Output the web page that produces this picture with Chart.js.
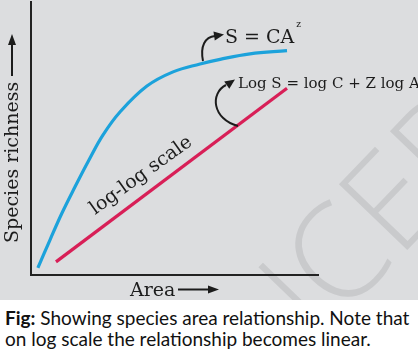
<!DOCTYPE html>
<html>
<head>
<meta charset="utf-8">
<script src="https://cdn.jsdelivr.net/npm/chart.js@4"></script>
<style>
  html, body { margin: 0; padding: 0; background: #fff; }
  #wrap { position: relative; width: 418px; height: 300px; }
  #caption {
    font-family: Lato, "Open Sans", sans-serif;
    font-size: 19px;
    line-height: 21px;
    color: #111;
    padding: 7px 0 0 5px;
    white-space: nowrap;
  }
</style>
</head>
<body>
<div id="wrap"><canvas id="chart" width="418" height="300"></canvas></div>
<div id="caption"><b>Fig:</b> Showing species area relationship. Note that<br>on log scale the relationship becomes linear.</div>
<script>
// Curva S = CA^z (area vs riqueza)
const areaCurve = [2.4, 6.6, 10.8, 15.3, 20.2, 25.1, 31.0, 40.4, 49.5, 58.9, 65.9, 76.3, 89.2];
const richCurve = [2.6, 12.8, 22.7, 32.2, 42.1, 51.3, 59.7, 69.2, 74.4, 77.3, 79.0, 81.0, 82.2];
// Recta en escala log-log
const areaLog = [8.7, 89.2];
const richLog = [4.8, 68.4];

const xTitle = 'Area';
const yTitle = 'Species richness';
const curveLabel = 'S = CA';
const logLabel = 'Log S = log C + Z log A';
const lineLabel = 'log-log scale';

const serif = '"DejaVu Serif", serif';
const ink = '#1c1c1c';

function arrowHead(ctx, tipX, tipY, ang, len, half) {
    ctx.save();
    ctx.translate(tipX, tipY);
    ctx.rotate(ang);
    ctx.beginPath();
    ctx.moveTo(0, 0);
    ctx.lineTo(-len, -half);
    ctx.lineTo(-len, half);
    ctx.closePath();
    ctx.fill();
    ctx.restore();
}

const decor = {
    id: 'decor',
    beforeDraw(chart) {
        const ctx = chart.ctx;
        ctx.save();
        ctx.fillStyle = '#dcdddf';
        ctx.fillRect(0, 0, chart.width, chart.height);
        // marca de agua
        ctx.translate(274, 388);
        ctx.rotate(-46 * Math.PI / 180);
        ctx.font = '300 133px "Open Sans", sans-serif';
        ctx.fillStyle = '#c9cacc';
        ctx.fillText('NCERT', 0, 0);
        ctx.restore();
    },
    afterDraw(chart) {
        const ctx = chart.ctx;
        const x = chart.scales.x, y = chart.scales.y;
        ctx.save();
        ctx.fillStyle = ink;
        ctx.strokeStyle = ink;
        ctx.lineWidth = 2;

        // titulo eje x con flecha
        ctx.font = '19px ' + serif;
        ctx.textBaseline = 'alphabetic';
        ctx.fillText(xTitle, 130, 296);
        ctx.beginPath();
        ctx.moveTo(178, 289.5);
        ctx.lineTo(210, 289.5);
        ctx.stroke();
        arrowHead(ctx, 219, 289.5, 0, 11, 4);

        // titulo eje y con flecha
        ctx.save();
        ctx.translate(18, 243);
        ctx.rotate(-Math.PI / 2);
        ctx.fillText(yTitle, 0, 0);
        ctx.restore();
        ctx.beginPath();
        ctx.moveTo(12, 76);
        ctx.lineTo(12, 43);
        ctx.stroke();
        arrowHead(ctx, 12, 34, -Math.PI / 2, 11, 4);

        // S = CA^z
        ctx.fillText(curveLabel, 225, 43);
        const w = ctx.measureText(curveLabel).width;
        ctx.font = '9px ' + serif;
        ctx.fillText('z', 225 + w + 2, 27);

        ctx.beginPath();
        ctx.moveTo(203, 61);
        ctx.bezierCurveTo(200, 46, 205, 37, 215, 36);
        ctx.stroke();
        arrowHead(ctx, 224, 34.5, -0.15, 10, 4.5);

        // Log S = log C + Z log A
        ctx.font = '15px ' + serif;
        ctx.fillText(logLabel, 238, 88);
        ctx.beginPath();
        ctx.moveTo(238, 126);
        ctx.bezierCurveTo(212, 119, 210, 93, 226, 85);
        ctx.stroke();
        arrowHead(ctx, 235, 79.5, -0.6, 10, 4.5);

        // texto sobre la recta
        const p0x = x.getPixelForValue(areaLog[0]), p0y = y.getPixelForValue(richLog[0]);
        const p1x = x.getPixelForValue(areaLog[1]), p1y = y.getPixelForValue(richLog[1]);
        const ang = Math.atan2(p1y - p0y, p1x - p0x);
        ctx.save();
        ctx.translate(95, 215);
        ctx.rotate(ang + 0.02);
        ctx.font = '19px ' + serif;
        ctx.fillText(lineLabel, 0, 0);
        ctx.restore();

        ctx.restore();
    }
};

new Chart(document.getElementById('chart'), {
    type: 'line',
    data: {
        datasets: [
            {
                data: areaCurve.map((v, i) => ({ x: v, y: richCurve[i] })),
                borderColor: '#1ca2db',
                borderWidth: 3.2,
                pointRadius: 0,
                tension: 0.4,
                fill: false
            },
            {
                data: areaLog.map((v, i) => ({ x: v, y: richLog[i] })),
                borderColor: '#d81f57',
                borderWidth: 3.2,
                pointRadius: 0,
                fill: false
            }
        ]
    },
    options: {
        responsive: false,
        animation: false,
        layout: { padding: { left: 31, right: 100, top: 2, bottom: 25 } },
        plugins: { legend: { display: false }, tooltip: { enabled: false } },
        scales: {
            x: {
                type: 'linear', min: 0, max: 100,
                ticks: { display: false },
                grid: { display: false, drawTicks: false },
                border: { display: true, color: '#222', width: 2 },
                afterFit: s => { s.height = 0; }
            },
            y: {
                type: 'linear', min: 0, max: 100,
                ticks: { display: false },
                grid: { display: false, drawTicks: false },
                border: { display: true, color: '#222', width: 2 },
                afterFit: s => { s.width = 0; }
            }
        }
    },
    plugins: [decor]
});
</script>
</body>
</html>
